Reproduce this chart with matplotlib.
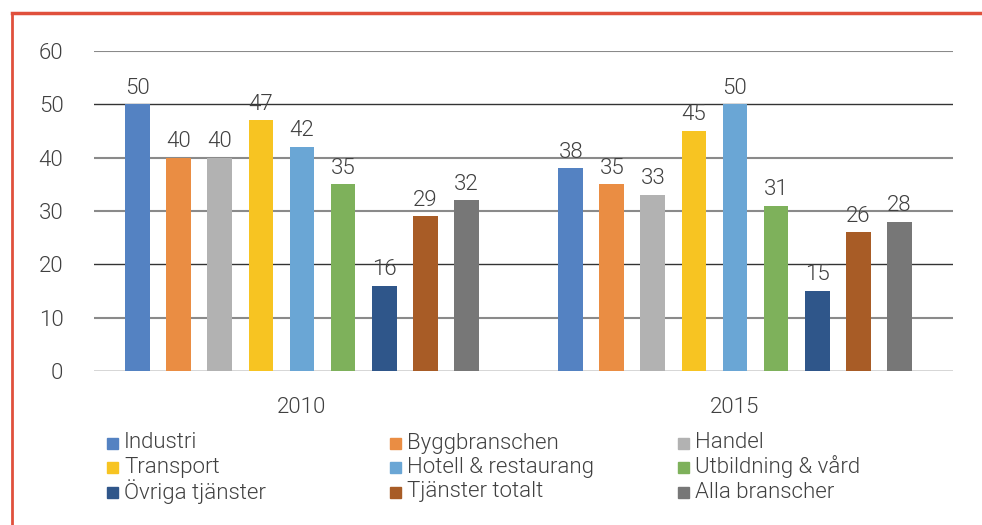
import matplotlib.pyplot as plt
from matplotlib.patches import Rectangle
from matplotlib.lines import Line2D
import numpy as np

years = ["2010", "2015"]
branches = ["Industri", "Byggbranschen", "Handel",
            "Transport", "Hotell & restaurang", "Utbildning & vård",
            "Övriga tjänster", "Tjänster totalt", "Alla branscher"]
values_2010 = [50, 40, 40, 47, 42, 35, 16, 29, 32]
values_2015 = [38, 35, 33, 45, 50, 31, 15, 26, 28]
colors = ["#5482C2", "#EA8D43", "#B2B2B2", "#F7C422", "#6AA6D5",
          "#7EB15B", "#2F568A", "#A85C26", "#777777"]
yticks = [0, 10, 20, 30, 40, 50, 60]
grid_colors = ["#333333", "#8a8a8a", "#333333", "#8a8a8a", "#8a8a8a", "#333333", "#8a8a8a"]

TEXT = "#404040"
FONT = ["Roboto", "DejaVu Sans"]
W = 300

fig = plt.figure(figsize=(9.82, 5.25), dpi=100)
ax = fig.add_axes([94 / 982, 1 - 371 / 525, (953 - 94) / 982, (371 - 51) / 525])

data = np.array([values_2010, values_2015])
x = np.arange(len(years))
slot = 0.0947
width = 0.0577
for i, name in enumerate(branches):
    pos = x + (i - 4) * slot
    bars = ax.bar(pos, data[:, i], width=width, color=colors[i], zorder=3)
    for b, v in zip(bars, data[:, i]):
        ax.annotate(str(v), (b.get_x() + b.get_width() / 2, v),
                    xytext=(0, 4), textcoords="offset points",
                    ha="center", va="bottom", fontsize=16, color=TEXT,
                    family=FONT, weight=W, zorder=4)

ax.set_ylim(0, 60)
ax.set_xlim(-208 / 433, 1 + 218 / 433)
ax.set_yticks(yticks)
ax.set_yticklabels([str(t) for t in yticks], family=FONT, weight=W,
                   fontsize=16, color=TEXT)
ax.set_xticks(x)
ax.set_xticklabels(years, family=FONT, weight=W, fontsize=16, color=TEXT)
ax.tick_params(length=0)
ax.tick_params(axis="y", pad=22)
ax.tick_params(axis="x", pad=19)
for s in ax.spines.values():
    s.set_visible(False)
for t, c in zip(yticks, grid_colors):
    lw = 1.0 if c == "#333333" else 1.5
    ax.axhline(t, color=c, lw=lw, zorder=1 if t else 2)

# legend laid out as in the original, row by row
col_x = [107 / 982, 390 / 982, 678 / 982]
row_y = [1 - 443 / 525, 1 - 467 / 525, 1 - 492 / 525]
sq_w, sq_h = 11 / 982, 11 / 525
for i, name in enumerate(branches):
    cx = col_x[i % 3]
    cy = row_y[i // 3]
    fig.add_artist(Rectangle((cx, cy - sq_h / 2), sq_w, sq_h, color=colors[i],
                             transform=fig.transFigure))
    fig.text(cx + 17 / 982, cy, name, va="center", ha="left", fontsize=16,
             color=TEXT, family=FONT, weight=W)

# red frame
red = "#E0503C"
fig.add_artist(Line2D([12 / 982, 1], [1 - 13 / 525] * 2, color=red, lw=2.5,
                      transform=fig.transFigure))
fig.add_artist(Line2D([12 / 982] * 2, [0, 1 - 13 / 525], color=red, lw=2.0,
                      transform=fig.transFigure))

fig.savefig("out.png", dpi=100)
